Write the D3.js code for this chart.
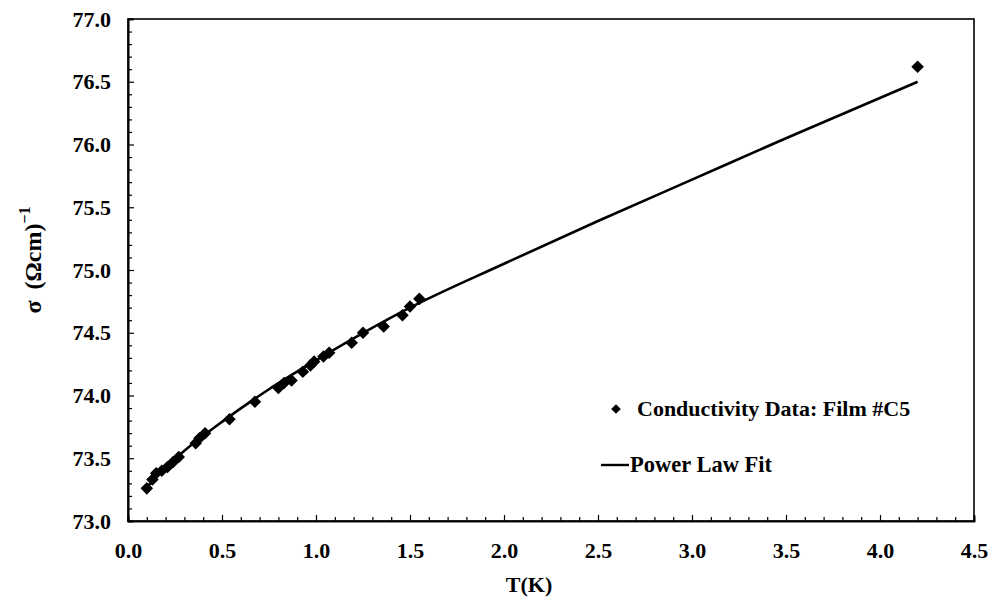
<!DOCTYPE html>
<html>
<head>
<meta charset="utf-8">
<script src="https://cdn.jsdelivr.net/npm/d3@7"></script>
<style>
  body { margin: 0; background: #fff; }
  svg text { font-family: "Liberation Serif", "Times New Roman", serif; font-weight: bold; fill: #000; }
</style>
</head>
<body>
<div id="chart"></div>
<script>
// data: temperature (K) and conductivity (Ohm cm)^-1
const tempK = [0.10, 0.13, 0.15, 0.18, 0.21, 0.24, 0.27, 0.36, 0.38, 0.41, 0.54,
  0.675, 0.80, 0.83, 0.87, 0.93, 0.97, 0.99, 1.04, 1.07, 1.19, 1.25, 1.36, 1.46, 1.50, 1.55, 4.20];
const sigma = [73.26, 73.33, 73.38, 73.40, 73.43, 73.47, 73.51, 73.62, 73.66, 73.70, 73.81,
  73.95, 74.06, 74.10, 74.12, 74.19, 74.24, 74.27, 74.31, 74.34, 74.42, 74.50, 74.55, 74.64, 74.71, 74.77, 76.62];

// power law fit curve
const fitT = [0.09, 0.2, 0.3, 0.5, 0.75, 1.0, 1.5, 2.0, 2.5, 3.0, 3.5, 4.2];
const fitSigma = [73.25, 73.43, 73.56, 73.79, 74.05, 74.28, 74.70, 75.05, 75.39, 75.72, 76.05, 76.50];

const xTicks = [0, 0.5, 1.0, 1.5, 2.0, 2.5, 3.0, 3.5, 4.0, 4.5];
const yTicks = [73.0, 73.5, 74.0, 74.5, 75.0, 75.5, 76.0, 76.5, 77.0];
const legendLabels = ['Conductivity Data: Film #C5', 'Power Law Fit'];

const W = 991, H = 600;
const margin = { top: 19, right: 17, bottom: 79, left: 128 };

const svg = d3.select('#chart').append('svg')
  .attr('width', W).attr('height', H);

const x = d3.scaleLinear().domain([0, 4.5]).range([margin.left, W - margin.right]);
const y = d3.scaleLinear().domain([73, 77]).range([H - margin.bottom, margin.top]);

// minor ticks every 0.1
const xMinor = d3.range(0, 46).map(i => i / 10).filter(v => Math.round(v * 10) % 5 !== 0);
const yMinor = d3.range(730, 771).map(i => i / 10).filter(v => Math.round(v * 10) % 5 !== 0);

// frame
svg.append('rect')
  .attr('x', x(0)).attr('y', y(77))
  .attr('width', x(4.5) - x(0)).attr('height', y(73) - y(77))
  .attr('fill', 'none').attr('stroke', '#000').attr('stroke-width', 1.6);

// x axis
const gx = svg.append('g').attr('transform', `translate(0,${y(73)})`);
gx.call(d3.axisBottom(x).tickValues(xTicks).tickSize(-6).tickPadding(21).tickFormat(d3.format('.1f')));
gx.append('g').call(d3.axisBottom(x).tickValues(xMinor).tickSize(-4).tickFormat(''));
gx.selectAll('.domain').attr('stroke-width', 1.6);
gx.selectAll('text').attr('font-size', 22).attr('font-family', '"Liberation Serif", serif').attr('font-weight', 'bold');
gx.selectAll('line').attr('stroke-width', 1.2);

// y axis
const gy = svg.append('g').attr('transform', `translate(${x(0)},0)`);
gy.call(d3.axisLeft(y).tickValues(yTicks).tickSize(-6).tickPadding(17).tickFormat(d3.format('.1f')));
gy.append('g').call(d3.axisLeft(y).tickValues(yMinor).tickSize(-4).tickFormat(''));
gy.selectAll('.domain').attr('stroke-width', 1.6);
gy.selectAll('text').attr('font-size', 22).attr('font-family', '"Liberation Serif", serif').attr('font-weight', 'bold');
gy.selectAll('line').attr('stroke-width', 1.2);

// fit line
const line = d3.line()
  .x((d, i) => x(fitT[i]))
  .y(d => y(d))
  .curve(d3.curveMonotoneX);

svg.append('path')
  .datum(fitSigma)
  .attr('d', line)
  .attr('fill', 'none')
  .attr('stroke', '#000')
  .attr('stroke-width', 2.6);

// data points
const diamond = d3.symbol().type(d3.symbolDiamond2).size(100);
svg.append('g')
  .selectAll('path')
  .data(sigma)
  .enter()
  .append('path')
  .attr('d', diamond)
  .attr('transform', (d, i) => `translate(${x(tempK[i])},${y(d)})`)
  .attr('fill', '#000');

// legend
const lg = svg.append('g');
lg.append('path')
  .attr('d', d3.symbol().type(d3.symbolDiamond2).size(60))
  .attr('transform', 'translate(616,409)')
  .attr('fill', '#000');
lg.append('text').attr('x', 637).attr('y', 416).attr('font-size', 22).text(legendLabels[0]);
lg.append('line')
  .attr('x1', 601).attr('x2', 629).attr('y1', 465).attr('y2', 465)
  .attr('stroke', '#000').attr('stroke-width', 2.4);
lg.append('text').attr('x', 630).attr('y', 472).attr('font-size', 22.5).text(legendLabels[1]);

// axis titles
svg.append('text')
  .attr('x', 529).attr('y', 592)
  .attr('text-anchor', 'middle').attr('font-size', 22)
  .text('T(K)');

const yt = svg.append('text')
  .attr('transform', 'translate(41,260) rotate(-90)')
  .attr('text-anchor', 'middle').attr('font-size', 24);
yt.append('tspan').text('σ');
yt.append('tspan').attr('dx', 11).text('(Ωcm)');
yt.append('tspan').attr('dy', -11).attr('font-size', 16).text('−1');
</script>
</body>
</html>
